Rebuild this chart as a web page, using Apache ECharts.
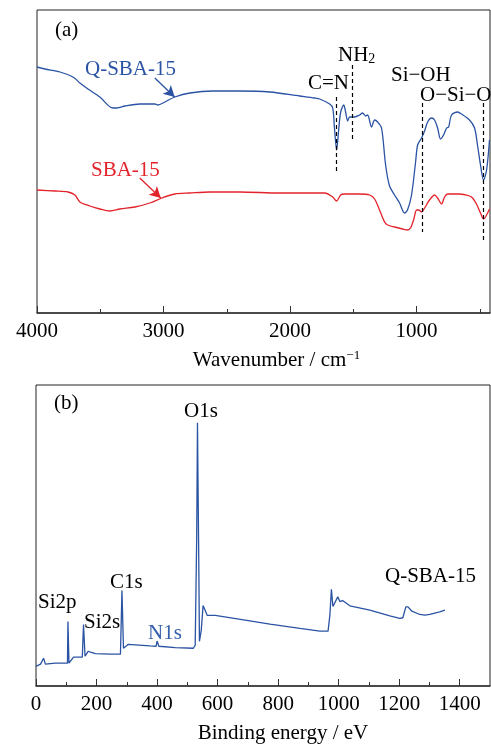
<!DOCTYPE html>
<html><head><meta charset="utf-8">
<script src="https://cdn.jsdelivr.net/npm/echarts@6/dist/echarts.min.js"></script>
<style>html,body{margin:0;padding:0;background:#fff}#c{width:491px;height:745px}</style>
</head><body><div id="c"></div>
<script>
const FONT = '"Liberation Serif","Times New Roman",serif';
const BLUE = '#2a53a3';
const RED = '#e3232b';

// FTIR (a): Q-SBA-15
const ftirWaveQ = [4000,3937,3818,3716,3661,3597,3503,3400,3368,3305,3187,3068,3045,2990,2911,2792,2611,2398,2161,1924,1806,1766,1687,1663,1648,1632,1616,1600,1576,1561,1545,1529,1490,1450,1427,1403,1387,1356,1332,1308,1277,1245,1214,1174,1135,1095,1072,1040,1008,992,961,937,913,882,858,834,811,787,763,747,724,676,645,582,542,519,495,471,447,424];
const ftirQ = [246,244,241,236,230,224,216,205,205,207,209,209,208,211,216,220,222,222,221,217,215,214,209,205,183,163,183,201,208,201,192,196,196,198,200,197,198,186,193,191,185,148,127,118,110,100,103,118,151,168,175,182,191,195,193,185,174,178,185,186,198,201,199,193,185,168,148,133,143,173];
// FTIR (a): SBA-15
const ftirWaveS = [4000,3858,3755,3700,3661,3582,3503,3424,3345,3226,3108,3013,2911,2792,2634,2398,2082,1727,1663,1632,1600,1569,1450,1371,1332,1293,1253,1229,1174,1111,1072,1048,1024,1000,984,961,937,898,858,834,803,779,755,661,582,558,527,495,471,447,424];
const ftirS = [123,122,121,118,111,107,104,102,104,106,110,115,119,120,121,121,120,120,116,112,118,119,119,118,114,103,91,88,86,84,83,85,93,103,103,101,105,113,118,115,109,116,119,119,117,115,109,100,94,98,104];
const ftirTickLabels = [1000,2000,3000,4000];
const ftirMinorTicks = [500,1500,2500,3500];

// XPS (b): Q-SBA-15
const xpsEnergy = [0,15,25,31,64,104,105.5,109,114,124,140,153,157,162,173,180,196,246,279,284,289,295,305,328,377,397,400,406,460,520,526,531,533.5,538,540,546,552,559,566,592,691,773,872,938,965,971,976,981,986,997,1004,1013,1037,1103,1169,1202,1212,1222,1229,1242,1268,1285,1301,1334,1351];
const xpsIntensity = [19.7,22,28,22,23,23,65,23,24,29,29,29,62,30,35,34,32.5,32,32,96,38,39,42,41.5,40.3,40,45.3,40,38.7,38,41,151,265,118,45,56,81,76,71,71,66.3,62.3,58,55.3,55.3,71.3,97.3,80,78,89.7,85,86,80.7,76.3,70.7,68,68.7,79.7,79.7,75.3,72,71.3,72,74.7,76.3];
const xpsTickLabels = [0,200,400,600,800,1000,1200,1400];
const xpsMinorTicks = [100,300,500,700,900,1100,1300];

const zip = (a, b) => a.map((v, i) => [v, b[i]]);

const chart = echarts.init(document.getElementById('c'), null, {renderer: 'canvas'});

const txt = (x, y, text, color, extra) => Object.assign({
  type: 'text', x: x, y: y, silent: true,
  style: Object.assign({text: text, fill: color || '#000', font: '21px ' + FONT, textVerticalAlign: 'middle', textAlign: 'left'}, extra || {})
});

const mainX = (gi, min, max, inverse, labels, name, nameGap, padLeft) => ({
  type: 'value', gridIndex: gi, min: min, max: max, inverse: inverse,
  name: name, nameLocation: 'middle', nameGap: nameGap,
  nameTextStyle: {fontFamily: FONT, fontSize: 21, color: '#000', padding: [0, 0, 0, padLeft],
    rich: {sup: {fontFamily: FONT, fontSize: 13, color: '#000', verticalAlign: 'top', padding: [0, 0, 10, 0]}}},
  splitLine: {show: false},
  axisLine: {show: true, onZero: false, lineStyle: {color: '#333', width: 1.5}},
  axisTick: {show: true, inside: true, length: 7, customValues: labels, lineStyle: {color: '#333', width: 1}},
  axisLabel: {show: true, customValues: labels, margin: 8, fontFamily: FONT, fontSize: 21, color: '#000',
    formatter: v => String(v)}
});
const minorX = (gi, min, max, inverse, ticks) => ({
  type: 'value', gridIndex: gi, min: min, max: max, inverse: inverse, position: 'bottom',
  splitLine: {show: false},
  axisLine: {show: false},
  axisTick: {show: true, inside: true, length: 4, customValues: ticks, lineStyle: {color: '#333', width: 1}},
  axisLabel: {show: false}
});

chart.setOption({
  animation: false,
  backgroundColor: '#fff',
  grid: [
    {left: 37, top: 10, width: 453, height: 303, show: true, borderColor: '#222', borderWidth: 1, containLabel: false},
    {left: 36, top: 385, width: 454, height: 303, show: true, borderColor: '#222', borderWidth: 1, containLabel: false}
  ],
  xAxis: [
    mainX(0, 420, 4000, true, ftirTickLabels, 'Wavenumber / cm{sup|−1}', 36, 26),
    minorX(0, 420, 4000, true, ftirMinorTicks),
    mainX(1, 0, 1500, false, xpsTickLabels, 'Binding energy / eV', 37, 40),
    minorX(1, 0, 1500, false, xpsMinorTicks)
  ],
  yAxis: [
    {type: 'value', gridIndex: 0, min: 0, max: 303, show: false},
    {type: 'value', gridIndex: 1, min: 0, max: 303, show: false}
  ],
  series: [
    {
      name: 'Q-SBA-15', type: 'line', xAxisIndex: 0, yAxisIndex: 0, data: zip(ftirWaveQ, ftirQ),
      showSymbol: false, smooth: 0.3, lineStyle: {color: BLUE, width: 1.3}, itemStyle: {color: BLUE},
      markLine: {
        silent: true, symbol: ['none', 'arrow'], symbolSize: [9, 11],
        lineStyle: {color: BLUE, width: 1.3, type: 'solid'}, label: {show: false},
        data: [[{coord: [3069, 235]}, {coord: [2912, 216]}]]
      }
    },
    {
      name: 'SBA-15', type: 'line', xAxisIndex: 0, yAxisIndex: 0, data: zip(ftirWaveS, ftirS),
      showSymbol: false, smooth: 0.3, lineStyle: {color: RED, width: 1.3}, itemStyle: {color: RED},
      markLine: {
        silent: true, symbol: ['none', 'none'],
        lineStyle: {color: '#000', width: 1.2, type: [4, 3]}, label: {show: false},
        data: [
          [{coord: [1634, 216]}, {coord: [1634, 141]}],
          [{coord: [1506, 248]}, {coord: [1506, 172]}],
          [{coord: [953, 210]}, {coord: [953, 81]}],
          [{coord: [472, 210]}, {coord: [472, 70]}],
          [{coord: [3188, 135], symbol: 'none', lineStyle: {color: RED, type: 'solid', width: 1.3}},
           {coord: [3022, 115], symbol: 'arrow', symbolSize: [9, 11]}]
        ]
      }
    },
    {
      name: 'XPS', type: 'line', xAxisIndex: 2, yAxisIndex: 1, data: zip(xpsEnergy, xpsIntensity),
      showSymbol: false, lineStyle: {color: BLUE, width: 1.3}, itemStyle: {color: BLUE}
    }
  ],
  graphic: [
    txt(55, 30, '(a)'),
    txt(85, 69, 'Q-SBA-15', BLUE),
    txt(91, 170, 'SBA-15', RED),
    txt(308, 83, 'C=N'),
    {type: 'text', x: 338, y: 55, silent: true, style: {text: '{a|NH}{s|2}', textVerticalAlign: 'middle',
      rich: {a: {font: '21px ' + FONT, fill: '#000'}, s: {font: '14px ' + FONT, fill: '#000', padding: [8, 0, 0, 0]}}}},
    txt(391, 75, 'Si−OH'),
    txt(420, 95, 'O−Si−O'),
    txt(54, 403, '(b)'),
    txt(184, 411, 'O1s'),
    txt(110, 582, 'C1s'),
    txt(38, 602, 'Si2p'),
    txt(84, 622, 'Si2s'),
    txt(148, 633, 'N1s', '#3560ad'),
    txt(385, 576, 'Q-SBA-15')
  ]
});
</script></body></html>
